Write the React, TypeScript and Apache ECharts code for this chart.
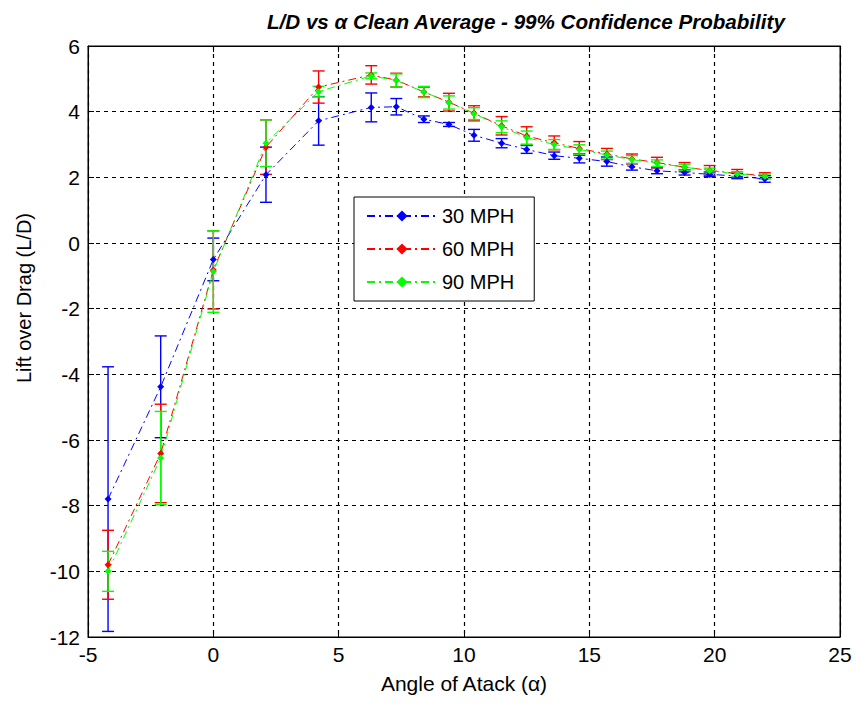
import React, { useEffect, useRef } from 'react';
import * as echarts from 'echarts';

// Angle of attack (deg)
const alpha = [-4.2, -2.1, 0, 2.1, 4.2, 6.3, 7.3, 8.4, 9.4, 10.4, 11.5, 12.5, 13.6, 14.6, 15.7, 16.7, 17.7, 18.8, 19.8, 20.9, 22.0];

// 30 MPH
const ld30 = [-7.80, -4.38, -0.50, 2.08, 3.72, 4.13, 4.15, 3.77, 3.61, 3.28, 3.04, 2.85, 2.66, 2.58, 2.48, 2.32, 2.20, 2.15, 2.09, 2.04, 1.95];
const err30 = [4.03, 1.55, 0.65, 0.84, 0.74, 0.44, 0.25, 0.10, 0.06, 0.18, 0.14, 0.12, 0.11, 0.14, 0.14, 0.10, 0.09, 0.08, 0.07, 0.08, 0.10];

// 60 MPH
const ld60 = [-9.80, -6.41, -0.82, 2.92, 4.75, 5.12, 4.96, 4.60, 4.29, 3.95, 3.57, 3.26, 3.05, 2.88, 2.71, 2.56, 2.45, 2.31, 2.21, 2.12, 2.05];
const err60 = [1.05, 1.50, 1.19, 0.83, 0.49, 0.28, 0.21, 0.15, 0.27, 0.23, 0.28, 0.28, 0.21, 0.21, 0.17, 0.15, 0.16, 0.14, 0.15, 0.12, 0.09];

// 90 MPH
const ld90 = [-10.0, -6.55, -0.87, 3.04, 4.61, 5.09, 4.95, 4.60, 4.28, 3.94, 3.54, 3.21, 3.00, 2.85, 2.68, 2.54, 2.43, 2.31, 2.20, 2.10, 2.03];
const err90 = [0.61, 1.42, 1.24, 0.71, 0.16, 0.09, 0.20, 0.17, 0.20, 0.18, 0.18, 0.20, 0.15, 0.14, 0.12, 0.12, 0.10, 0.09, 0.08, 0.07, 0.07];

const seriesNames = ['30 MPH', '60 MPH', '90 MPH'];
const seriesColors = ['#0000ff', '#ff0000', '#00ff00'];
const means = [ld30, ld60, ld90];
const errs = [err30, err60, err90];

const titleText = 'L/D vs \u03b1 Clean Average - 99% Confidence Probability';
const xName = 'Angle of Atack (\u03b1)';
const yName = 'Lift over Drag (L/D)';

const FONT = '"Liberation Sans", Arial, sans-serif';

export default function App() {
  const ref = useRef<HTMLDivElement>(null);
  useEffect(() => {
    if (!ref.current) return;
    const chart = echarts.init(ref.current, undefined, { renderer: 'svg' });

    const series: any[] = [];
    seriesNames.forEach((name, k) => {
      const color = seriesColors[k];
      series.push({
        name: name + ' CI',
        type: 'custom',
        data: alpha.map((a, i) => [a, means[k][i] - errs[k][i], means[k][i] + errs[k][i]]),
        encode: { x: 0, y: [1, 2] },
        silent: true,
        renderItem: (params: any, api: any) => {
          const x = api.value(0);
          const pLo = api.coord([x, api.value(1)]);
          const pHi = api.coord([x, api.value(2)]);
          const hw = 6;
          const style = { stroke: color, lineWidth: 1.4, fill: null };
          return {
            type: 'group',
            children: [
              { type: 'line', shape: { x1: pLo[0], y1: pLo[1], x2: pHi[0], y2: pHi[1] }, style },
              { type: 'line', shape: { x1: pLo[0] - hw, y1: pLo[1], x2: pLo[0] + hw, y2: pLo[1] }, style },
              { type: 'line', shape: { x1: pHi[0] - hw, y1: pHi[1], x2: pHi[0] + hw, y2: pHi[1] }, style },
            ],
          };
        },
      });
      series.push({
        name,
        type: 'line',
        data: alpha.map((a, i) => [a, means[k][i]]),
        symbol: 'diamond',
        symbolSize: 7,
        showAllSymbol: true,
        itemStyle: { color },
        lineStyle: { color, width: 1, type: [8, 4, 2, 4] },
      });
    });

    const axisCommon = {
      type: 'value',
      axisLine: { show: true, onZero: false, lineStyle: { color: '#000', width: 1 } },
      axisTick: { show: true, inside: true, length: 6, lineStyle: { color: '#000' } },
      splitLine: { show: false },
      axisLabel: { color: '#000', fontSize: 21, fontFamily: FONT },
    };
    const gridDash = { show: true, lineStyle: { color: '#000', type: [4, 4], width: 1.2 } };

    chart.setOption({
      animation: false,
      backgroundColor: '#ffffff',
      title: {
        text: titleText,
        left: 262,
        top: 6,
        textStyle: { fontSize: 20.6, fontWeight: 'bold', fontStyle: 'italic', fontFamily: FONT, color: '#000' },
      },
      grid: { left: 88, top: 46, width: 752, height: 591, show: true, borderColor: '#000', borderWidth: 1, backgroundColor: '#fff' },
      legend: {
        data: seriesNames,
        orient: 'vertical',
        left: 354,
        top: 197,
        padding: [8, 20, 8, 12],
        itemWidth: 70,
        itemHeight: 14,
        itemGap: 11,
        backgroundColor: '#fff',
        borderColor: '#000',
        borderWidth: 1,
        borderRadius: 0,
        textStyle: { fontSize: 20, fontFamily: FONT, color: '#000', lineHeight: 22 },
      },
      xAxis: [
        {
          ...axisCommon,
          min: -5, max: 25, interval: 5,
          position: 'bottom',
          name: xName,
          nameLocation: 'middle',
          nameGap: 36,
          nameTextStyle: { fontSize: 21, fontFamily: FONT, color: '#000' },
          axisLabel: { ...axisCommon.axisLabel, margin: 7 },
          splitLine: gridDash,
        },
        {
          ...axisCommon,
          min: -5, max: 25, interval: 5,
          position: 'top',
          axisLabel: { show: false },
        },
      ],
      yAxis: [
        {
          ...axisCommon,
          min: -12, max: 6, interval: 2,
          position: 'left',
          axisLabel: { ...axisCommon.axisLabel, margin: 8 },
          splitLine: gridDash,
        },
        {
          ...axisCommon,
          min: -12, max: 6, interval: 2,
          position: 'right',
          axisLabel: { show: false },
        },
      ],
      graphic: [
        {
          type: 'text',
          x: 24,
          y: 298,
          rotation: Math.PI / 2,
          style: { text: yName, fontSize: 20, fontFamily: FONT, fill: '#000', align: 'center', verticalAlign: 'middle' },
        },
      ],
      series,
    });
    return () => chart.dispose();
  }, []);
  return <div ref={ref} style={{ position: 'fixed', left: 0, top: 0, width: 856, height: 704, background: '#fff' }} />;
}
